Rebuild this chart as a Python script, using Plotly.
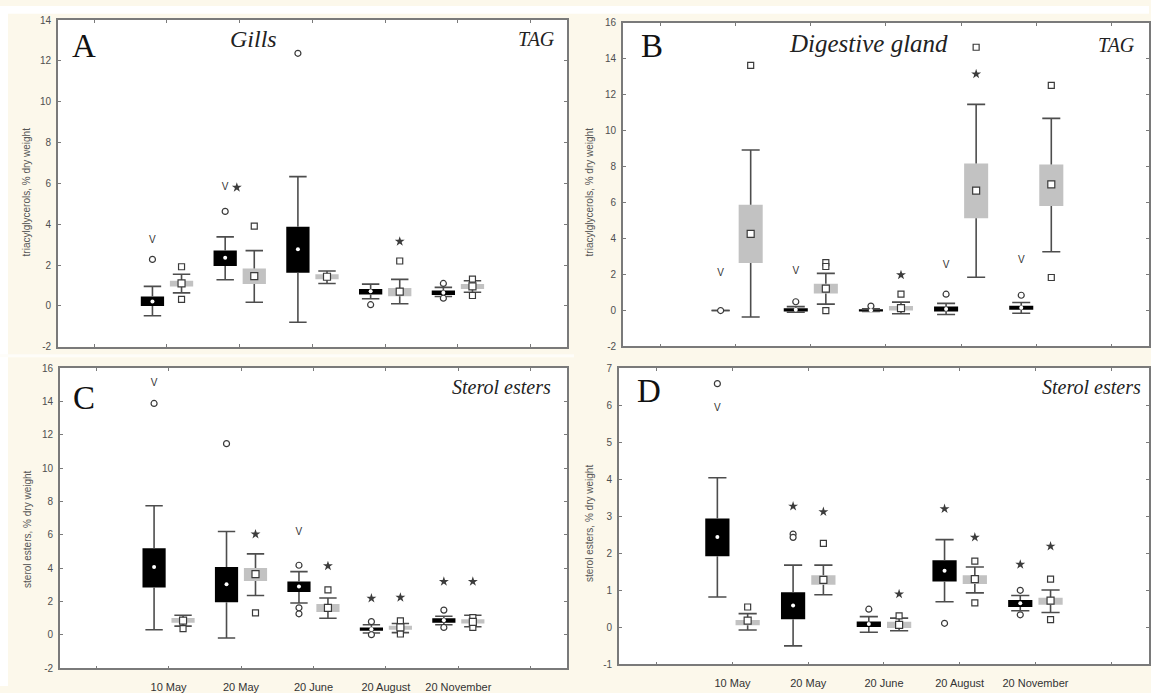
import plotly.graph_objects as go

W, H = 1151, 693

# ---------------- data ----------------
categories = ["10 May", "20 May", "20 June", "20 August", "20 November"]
tick_labels = ["", "10 May", "20 May", "20 June", "20 August", "20 November", ""]

# Panel A  - Gills, TAG
A_blk_box_lo = [0.00, 1.96, 1.63, 0.56, 0.54]
A_blk_box_hi = [0.46, 2.71, 3.88, 0.83, 0.75]
A_blk_mean = [0.22, 2.36, 2.77, 0.72, 0.64]
A_blk_wlo = [-0.48, 1.28, -0.80, 0.35, 0.46]
A_blk_whi = [0.96, 3.38, 6.33, 1.07, 0.91]
A_blk_out = [[2.28], [4.63], [12.37], [0.06], [1.10, 0.38]]
A_gry_box_lo = [0.95, 1.07, 1.31, 0.48, 0.83]
A_gry_box_hi = [1.23, 1.83, 1.55, 0.88, 1.07]
A_gry_mean = [1.10, 1.46, 1.43, 0.70, 0.96]
A_gry_wlo = [0.64, 0.18, 1.10, 0.11, 0.67]
A_gry_whi = [1.55, 2.71, 1.71, 1.30, 1.23]
A_gry_out = [[1.92, 0.32], [3.91], [], [2.20], [1.31, 0.51]]
A_sig = [("10 May", "black", "V", 3.2), ("20 May", "black", "V", 5.8),
         ("20 May", "mid", "*", 5.8), ("20 August", "gray", "*", 3.16)]

# Panel B  - Digestive gland, TAG
B_blk_box_lo = [0.00, -0.05, -0.05, -0.05, 0.04]
B_blk_box_hi = [0.00, 0.13, 0.07, 0.22, 0.27]
B_blk_mean = [0.00, 0.04, 0.02, 0.09, 0.16]
B_blk_wlo = [0.00, -0.09, -0.05, -0.22, -0.15]
B_blk_whi = [0.00, 0.22, 0.10, 0.40, 0.45]
B_blk_out = [[0.0], [0.49], [0.25], [0.91], [0.85]]
B_gry_box_lo = [2.64, 0.95, 0.00, 5.13, 5.82]
B_gry_box_hi = [5.89, 1.49, 0.25, 8.18, 8.13]
B_gry_mean = [4.27, 1.22, 0.13, 6.67, 7.02]
B_gry_wlo = [-0.36, 0.36, -0.18, 1.85, 3.27]
B_gry_whi = [8.93, 2.07, 0.47, 11.47, 10.69]
B_gry_out = [[13.64], [2.67, 2.45, 0.0], [0.91], [14.65], [12.53, 1.84]]
B_sig = [("10 May", "black", "V", 2.07), ("20 May", "black", "V", 2.18),
         ("20 August", "black", "V", 2.49), ("20 November", "black", "V", 2.76),
         ("20 June", "gray", "*", 1.98), ("20 August", "gray", "*", 13.16)]

# Panel C  - Gills, sterol esters
C_blk_box_lo = [2.84, 1.96, 2.57, 0.25, 0.73]
C_blk_box_hi = [5.20, 4.08, 3.20, 0.45, 1.00]
C_blk_mean = [4.08, 3.04, 2.90, 0.35, 0.88]
C_blk_wlo = [0.31, -0.18, 1.92, 0.12, 0.61]
C_blk_whi = [7.75, 6.20, 3.80, 0.61, 1.12]
C_blk_out = [[13.88], [11.47], [4.18, 1.63, 1.27], [0.80, 0.02], [1.49, 0.45]]
C_gry_box_lo = [0.73, 3.24, 1.37, 0.31, 0.69]
C_gry_box_hi = [1.02, 4.02, 1.86, 0.55, 0.94]
C_gry_mean = [0.86, 3.65, 1.63, 0.45, 0.78]
C_gry_wlo = [0.53, 2.37, 1.00, 0.14, 0.49]
C_gry_whi = [1.18, 4.86, 2.22, 0.69, 1.18]
C_gry_out = [[0.38], [1.33], [2.70], [0.84, 0.06], [1.04, 0.45]]
C_sig = [("10 May", "black", "V", 15.06), ("20 June", "black", "V", 6.14),
         ("20 August", "black", "*", 2.2), ("20 November", "black", "*", 3.2),
         ("20 May", "gray", "*", 6.04), ("20 June", "gray", "*", 4.14),
         ("20 August", "gray", "*", 2.25), ("20 November", "gray", "*", 3.2)]

# Panel D  - Digestive gland, sterol esters
D_blk_box_lo = [1.92, 0.22, 0.01, 1.24, 0.55]
D_blk_box_hi = [2.94, 0.95, 0.16, 1.81, 0.74]
D_blk_mean = [2.44, 0.59, 0.09, 1.53, 0.65]
D_blk_wlo = [0.82, -0.50, -0.13, 0.69, 0.45]
D_blk_whi = [4.04, 1.68, 0.29, 2.37, 0.86]
D_blk_out = [[6.58], [2.52, 2.43], [0.49], [0.11], [1.00, 0.34]]
D_gry_box_lo = [0.06, 1.15, -0.02, 1.17, 0.61]
D_gry_box_hi = [0.20, 1.41, 0.15, 1.41, 0.80]
D_gry_mean = [0.18, 1.28, 0.07, 1.30, 0.72]
D_gry_wlo = [-0.07, 0.88, -0.09, 0.93, 0.40]
D_gry_whi = [0.37, 1.68, 0.25, 1.63, 1.01]
D_gry_out = [[0.55], [2.27], [0.31], [1.79, 0.66], [1.30, 0.21]]
D_sig = [("10 May", "black", "V", 5.92), ("20 May", "black", "*", 3.27),
         ("20 August", "black", "*", 3.2), ("20 November", "black", "*", 1.7),
         ("20 May", "gray", "*", 3.12), ("20 June", "gray", "*", 0.9),
         ("20 August", "gray", "*", 2.43), ("20 November", "gray", "*", 2.19)]

# y tick values per panel
A_yticks = [-2, 0, 2, 4, 6, 8, 10, 12, 14]
B_yticks = [-2, 0, 2, 4, 6, 8, 10, 12, 14, 16]
C_yticks = [-2, 0, 2, 4, 6, 8, 10, 12, 14, 16]
D_yticks = [-1, 0, 1, 2, 3, 4, 5, 6, 7]

# ---------------- styling ----------------
BLACK = "#000000"
GRAY = "#c2c2c2"
WHISK = "#4d4d4d"
MARK = "#3a3a3a"
OFFS = {"black": -0.2, "gray": 0.2, "mid": -0.04}
BOX_W = 0.32
CAP_W = 0.24
SERIF = "Liberation Serif, Times New Roman, serif"
SANS = "Liberation Sans, Arial, sans-serif"

fig = go.Figure()


def cat_x(cat, series):
    return categories.index(cat) + 2 + OFFS[series]


def add_series(ax, ay, lo, hi, mean, wlo, whi, outs, series):
    xs = [cat_x(c, series) for c in categories]
    color = BLACK if series == "black" else GRAY
    fig.add_trace(go.Bar(x=xs, y=[h - l for l, h in zip(lo, hi)], base=lo,
                         width=BOX_W, marker=dict(color=color, line=dict(width=0)),
                         xaxis=ax, yaxis=ay, hoverinfo="skip"))
    wx, wy = [], []
    for p, l, h, a, b in zip(xs, lo, hi, wlo, whi):
        wx += [p, p, None, p, p, None,
               p - CAP_W / 2, p + CAP_W / 2, None, p - CAP_W / 2, p + CAP_W / 2, None]
        wy += [a, l, None, h, b, None, a, a, None, b, b, None]
    fig.add_trace(go.Scatter(x=wx, y=wy, mode="lines",
                             line=dict(color=WHISK, width=1.6),
                             xaxis=ax, yaxis=ay, hoverinfo="skip"))
    ox, oy = [], []
    for p, o in zip(xs, outs):
        for v in o:
            ox.append(p)
            oy.append(v)
    sym = "circle" if series == "black" else "square"
    fig.add_trace(go.Scatter(x=ox, y=oy, mode="markers",
                             marker=dict(symbol=sym, size=6, color="white",
                                         line=dict(color=MARK, width=1.2)),
                             xaxis=ax, yaxis=ay, hoverinfo="skip"))
    if series == "black":
        fig.add_trace(go.Scatter(x=xs, y=mean, mode="markers",
                                 marker=dict(symbol="circle", size=4, color="white",
                                             line=dict(width=0)),
                                 xaxis=ax, yaxis=ay, hoverinfo="skip"))
    else:
        fig.add_trace(go.Scatter(x=xs, y=mean, mode="markers",
                                 marker=dict(symbol="square", size=7, color="white",
                                             line=dict(color=MARK, width=1.2)),
                                 xaxis=ax, yaxis=ay, hoverinfo="skip"))


def add_sig(ax, ay, sig):
    vx = [cat_x(c, s) for c, s, k, v in sig if k == "V"]
    vy = [v for c, s, k, v in sig if k == "V"]
    sx = [cat_x(c, s) for c, s, k, v in sig if k == "*"]
    sy = [v for c, s, k, v in sig if k == "*"]
    fig.add_trace(go.Scatter(x=vx, y=vy, mode="text", text=["V"] * len(vx),
                             textfont=dict(family=SANS, size=10, color="#333"),
                             xaxis=ax, yaxis=ay, hoverinfo="skip"))
    fig.add_trace(go.Scatter(x=sx, y=sy, mode="markers",
                             marker=dict(symbol="star", size=7.5, color="#3c3c3c",
                                         line=dict(width=0)),
                             xaxis=ax, yaxis=ay, hoverinfo="skip"))


panels = [
    ("x", "y", A_blk_box_lo, A_blk_box_hi, A_blk_mean, A_blk_wlo, A_blk_whi, A_blk_out,
     A_gry_box_lo, A_gry_box_hi, A_gry_mean, A_gry_wlo, A_gry_whi, A_gry_out, A_sig),
    ("x2", "y2", B_blk_box_lo, B_blk_box_hi, B_blk_mean, B_blk_wlo, B_blk_whi, B_blk_out,
     B_gry_box_lo, B_gry_box_hi, B_gry_mean, B_gry_wlo, B_gry_whi, B_gry_out, B_sig),
    ("x3", "y3", C_blk_box_lo, C_blk_box_hi, C_blk_mean, C_blk_wlo, C_blk_whi, C_blk_out,
     C_gry_box_lo, C_gry_box_hi, C_gry_mean, C_gry_wlo, C_gry_whi, C_gry_out, C_sig),
    ("x4", "y4", D_blk_box_lo, D_blk_box_hi, D_blk_mean, D_blk_wlo, D_blk_whi, D_blk_out,
     D_gry_box_lo, D_gry_box_hi, D_gry_mean, D_gry_wlo, D_gry_whi, D_gry_out, D_sig),
]
for p in panels:
    ax, ay = p[0], p[1]
    add_series(ax, ay, *p[2:8], "black")
    add_series(ax, ay, *p[8:14], "gray")
    add_sig(ax, ay, p[14])

# ---------------- axes ----------------
def fx(x):
    return x / W


def fy(y):
    return 1 - y / H


axis_common = dict(showline=True, linecolor="#7a7a7a", linewidth=1.5, mirror="ticks",
                   ticks="inside", ticklen=3, tickcolor="#7a7a7a", tickwidth=1,
                   showgrid=False, zeroline=False,
                   tickfont=dict(family=SANS, size=10, color="#4f4f4f"))

# (x-domain px, y-domain px, y ticks, show x labels)
geom = [
    ((58, 568), (14.3, 347.3), A_yticks, False),
    ((624, 1151), (17.3, 347.0), B_yticks, False),
    ((60, 568), (369.0, 675.0), C_yticks, True),
    ((620, 1151), (369.0, 671.0), D_yticks, True),
]
layout_axes = {}
for i, (xd, yd, yt, showx) in enumerate(geom):
    sfx = "" if i == 0 else str(i + 1)
    xa = dict(axis_common, domain=[fx(xd[0]), fx(xd[1])], range=[0.5, 7.5],
              tickmode="array", tickvals=list(range(1, 8)),
              ticktext=tick_labels if showx else [""] * 7,
              anchor="y" + sfx, ticklabelstandoff=8)
    xa["tickfont"] = dict(family=SANS, size=11, color="#333")
    ya = dict(axis_common, domain=[fy(yd[1]), fy(yd[0])], range=[yt[0], yt[-1]],
              tickmode="array", tickvals=yt, ticktext=[str(v) for v in yt],
              anchor="x" + sfx, ticklabelstandoff=3)
    layout_axes["xaxis" + sfx] = xa
    layout_axes["yaxis" + sfx] = ya

# ---------------- text ----------------
annots = []


def ann(text, x, y, size, family=SERIF, italic=False, color="#111", angle=0):
    annots.append(dict(text=text, x=fx(x), y=fy(y), xref="paper", yref="paper",
                       xanchor="center", yanchor="middle", showarrow=False,
                       textangle=angle,
                       font=dict(family=family, size=size, color=color,
                                 style="italic" if italic else "normal")))


ann("A", 84, 41, 33)
ann("B", 653, 41, 33)
ann("C", 84, 400, 33)
ann("D", 650, 392, 33)
ann("Gills", 254, 34, 24, italic=True, color="#222")
ann("Digestive gland", 870, 38, 25, italic=True, color="#222")
ann("TAG", 537, 34, 20, italic=True, color="#222")
ann("TAG", 1118, 40, 20, italic=True, color="#222")
ann("Sterol esters", 502, 388, 20, italic=True, color="#222")
ann("Sterol esters", 1093, 388, 20, italic=True, color="#222")
ann("triacylglycerols, % dry weight", 26, 189, 10, family=SANS, color="#555", angle=-90)
ann("triacylglycerols, % dry weight", 590, 189, 10, family=SANS, color="#555", angle=-90)
ann("sterol esters, % dry weight", 27, 533, 10, family=SANS, color="#555", angle=-90)
ann("sterol esters, % dry weight", 590, 527, 10, family=SANS, color="#555", angle=-90)

shapes = [
    dict(type="rect", xref="paper", yref="paper", x0=0, x1=1, y0=fy(8), y1=1,
         fillcolor="white", line=dict(width=0), layer="below"),
    dict(type="rect", xref="paper", yref="paper", x0=0, x1=fx(8), y0=0, y1=1,
         fillcolor="white", line=dict(width=0), layer="below"),
    dict(type="rect", xref="paper", yref="paper", x0=0, x1=fx(575), y0=fy(358), y1=fy(355),
         fillcolor="#fefdf9", line=dict(width=0), layer="below"),
]

fig.update_layout(
    width=W, height=H, autosize=False,
    margin=dict(l=0, r=0, t=0, b=0),
    paper_bgcolor="#fcf8eb", plot_bgcolor="white",
    showlegend=False, barmode="overlay",
    annotations=annots, shapes=shapes,
    **layout_axes,
)

fig.write_html("out.html")
